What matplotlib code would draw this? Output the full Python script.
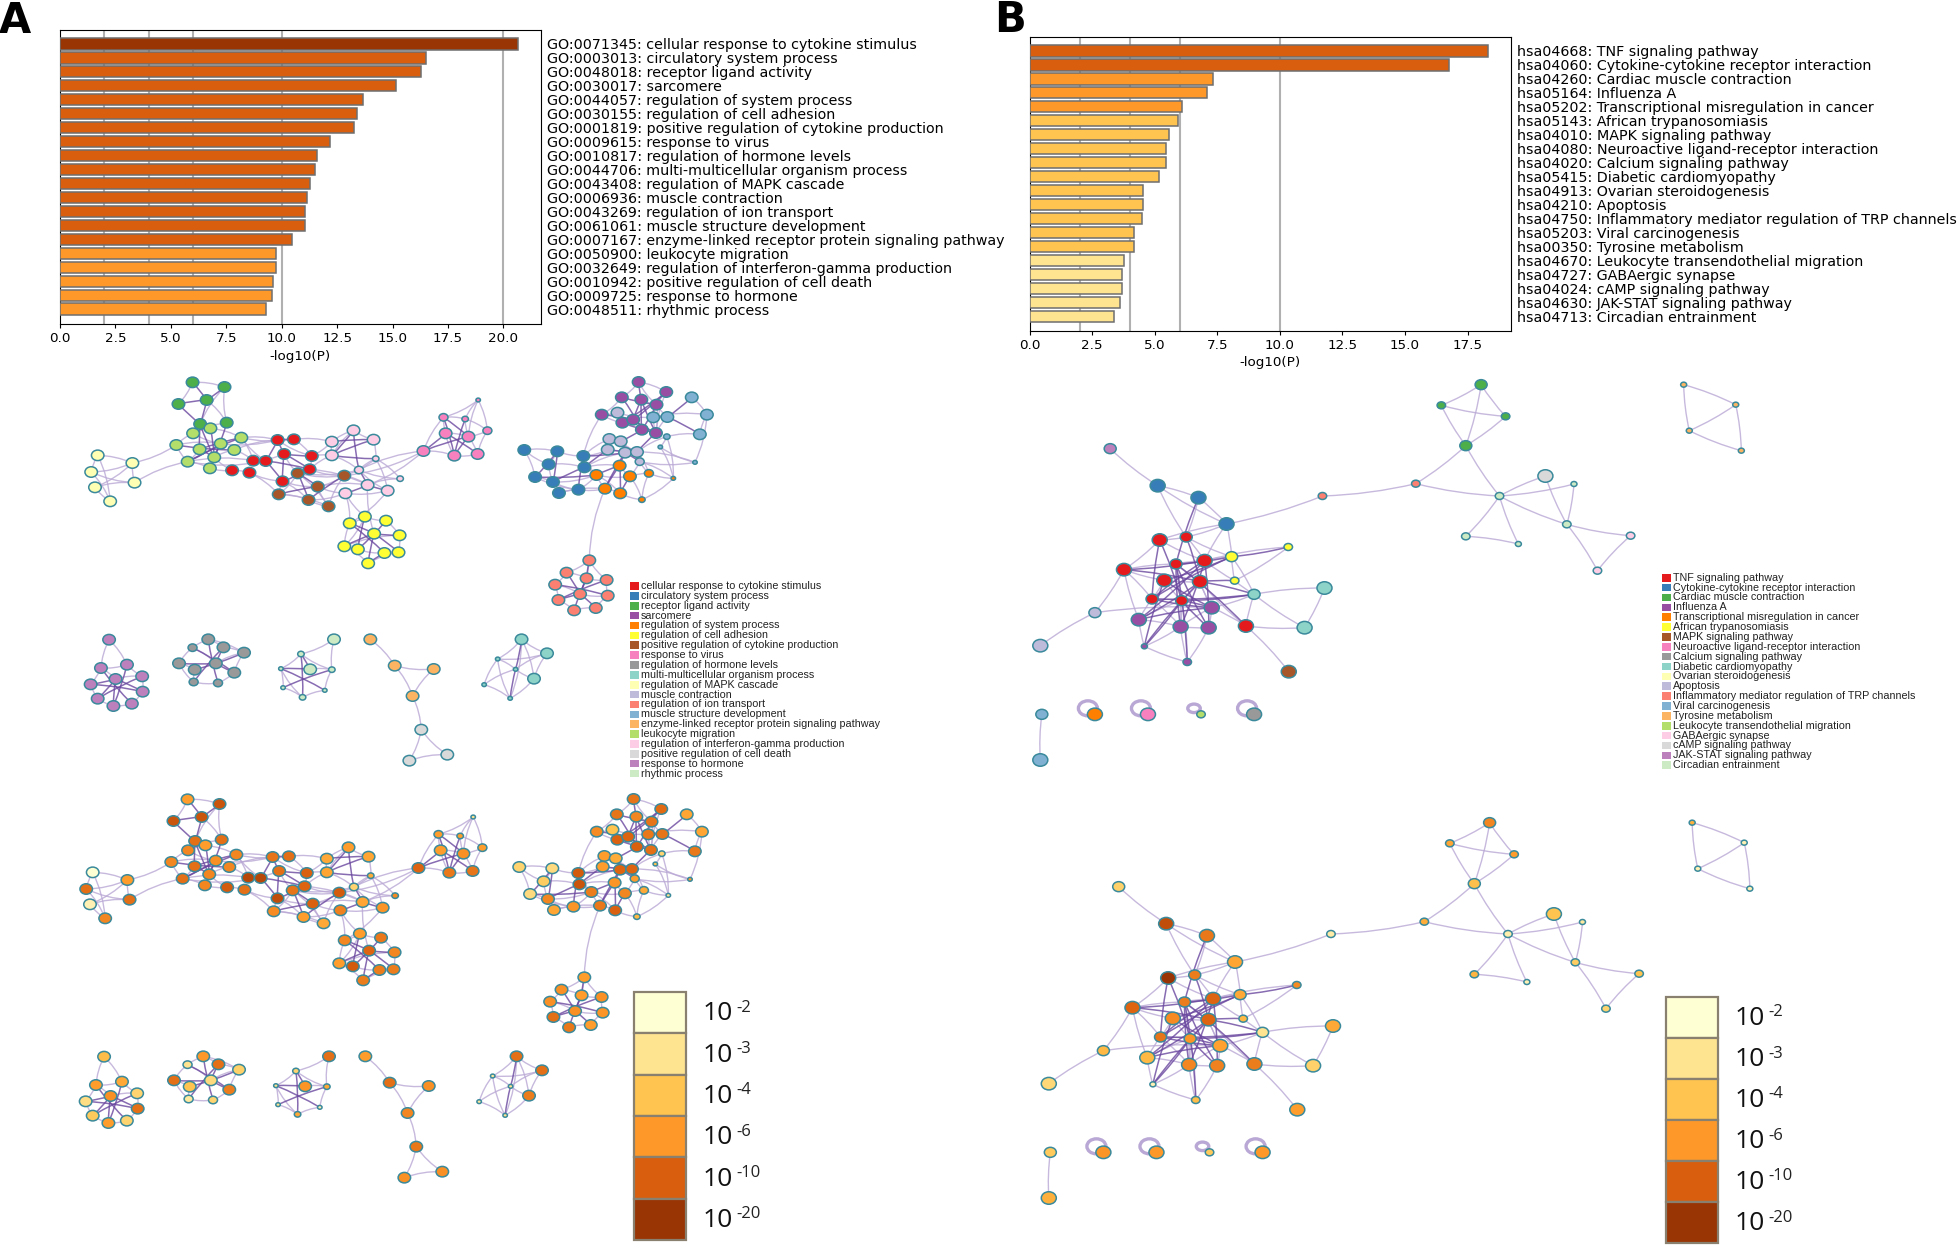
import matplotlib
matplotlib.use('Agg')
import matplotlib.pyplot as plt
from matplotlib.colors import LinearSegmentedColormap
from matplotlib.patches import Ellipse, Rectangle, FancyArrowPatch

W, H = 1959, 1246

# p value colour bins
bin_colors = ['#FFFFD4', '#FEE391', '#FEC44F', '#FE9929', '#D95F0E', '#993404']
bin_labels = ['-2', '-3', '-4', '-6', '-10', '-20']
p_cmap = LinearSegmentedColormap.from_list('p', list(zip([0, 0.2, 0.4, 0.62, 0.87, 1], bin_colors)))

cluster_colors = ['#E41A1C', '#377EB8', '#4DAF4A', '#984EA3', '#FF7F00', '#FFFF33', '#A65628',
                  '#F781BF', '#999999', '#8DD3C7', '#FFFFB3', '#BEBADA', '#FB8072', '#80B1D3',
                  '#FDB462', '#B3DE69', '#FCCDE5', '#D9D9D9', '#BC80BD', '#CCEBC5']

# ---- bars A
go_labels = ['GO:0071345: cellular response to cytokine stimulus', 'GO:0003013: circulatory system process',
             'GO:0048018: receptor ligand activity', 'GO:0030017: sarcomere',
             'GO:0044057: regulation of system process', 'GO:0030155: regulation of cell adhesion',
             'GO:0001819: positive regulation of cytokine production', 'GO:0009615: response to virus',
             'GO:0010817: regulation of hormone levels', 'GO:0044706: multi-multicellular organism process',
             'GO:0043408: regulation of MAPK cascade', 'GO:0006936: muscle contraction',
             'GO:0043269: regulation of ion transport', 'GO:0061061: muscle structure development',
             'GO:0007167: enzyme-linked receptor protein signaling pathway', 'GO:0050900: leukocyte migration',
             'GO:0032649: regulation of interferon-gamma production', 'GO:0010942: positive regulation of cell death',
             'GO:0009725: response to hormone', 'GO:0048511: rhythmic process']
go_values = [20.66, 16.52, 16.29, 15.14, 13.67, 13.38, 13.24, 12.17, 11.57, 11.51,
             11.28, 11.14, 11.05, 11.05, 10.47, 9.73, 9.73, 9.61, 9.55, 9.27]
go_bins = [5] + [4] * 14 + [3] * 5

# ---- bars B
kegg_labels = ['hsa04668: TNF signaling pathway', 'hsa04060: Cytokine-cytokine receptor interaction',
               'hsa04260: Cardiac muscle contraction', 'hsa05164: Influenza A',
               'hsa05202: Transcriptional misregulation in cancer', 'hsa05143: African trypanosomiasis',
               'hsa04010: MAPK signaling pathway', 'hsa04080: Neuroactive ligand-receptor interaction',
               'hsa04020: Calcium signaling pathway', 'hsa05415: Diabetic cardiomyopathy',
               'hsa04913: Ovarian steroidogenesis', 'hsa04210: Apoptosis',
               'hsa04750: Inflammatory mediator regulation of TRP channels', 'hsa05203: Viral carcinogenesis',
               'hsa00350: Tyrosine metabolism', 'hsa04670: Leukocyte transendothelial migration',
               'hsa04727: GABAergic synapse', 'hsa04024: cAMP signaling pathway',
               'hsa04630: JAK-STAT signaling pathway', 'hsa04713: Circadian entrainment']
kegg_values = [18.32, 16.77, 7.31, 7.09, 6.07, 5.93, 5.58, 5.46, 5.43, 5.16,
               4.54, 4.54, 4.47, 4.17, 4.17, 3.75, 3.68, 3.68, 3.60, 3.36]
kegg_bins = [4] * 2 + [3] * 3 + [2] * 10 + [1] * 5

a_x = [263, 322, 289, 237, 277, 326,
       264, 296, 353, 233, 315, 276, 340, 303, 254, 295,
       88, 152, 76, 156, 83, 111,
       420, 450, 432, 483, 375, 398, 336, 368, 479, 429,
       457, 543, 494, 422, 477, 514,
       520, 520, 560, 597, 601, 570, 586, 545, 623, 646,
       790, 726, 766, 807, 730, 772, 689, 746, 789,
       581, 620, 553, 598, 645, 543, 568, 617, 643, 587,
       1086, 1137, 1055, 1091, 1119, 1018, 1056, 1076, 1092, 1118,
       1184, 1212, 1113, 1139, 1199, 1138, 1126, 1190,
       1047, 1032, 1053, 1029, 1061, 1083, 1088,
       875, 936, 984, 920, 986, 895, 928, 939, 975,
       1051, 1008, 1070, 1105, 1150, 1024, 1052, 1092,
       995, 953, 990, 1027, 932, 978, 1029, 938, 1007, 967,
       109, 94, 142, 170, 121, 75, 171, 88, 151, 117,
       292, 263, 320, 358, 238, 306, 267, 340, 265, 310,
       524, 463, 480, 426, 520, 430, 507, 466,
       591, 636, 708, 669,
       685, 733, 663,
       870, 917, 893, 826, 859, 801, 849]
a_y = [67, 81, 120, 132, 192, 188,
       220, 205, 233, 255, 251, 268, 270, 292, 305, 325,
       286, 309, 336, 368, 382, 424,
       240, 238, 282, 288, 302, 303, 331, 338, 328, 364,
       340, 347, 380, 403, 420, 439,
       245, 286, 211, 239, 296, 330, 375, 400, 392, 356,
       120, 172, 177, 212, 220, 230, 273, 287, 282,
       470, 482, 490, 521, 526, 559, 568, 579, 577, 610,
       66, 96, 112, 119, 134, 164, 188, 179, 209, 219,
       112, 164, 172, 171, 223, 230, 261, 307,
       158, 237, 244, 269, 278, 276, 305,
       270, 274, 288, 313, 322, 351, 366, 399, 389,
       317, 345, 349, 340, 355, 386, 400, 419,
       601, 638, 655, 660, 674, 702, 707, 720, 744, 751,
       839, 924, 914, 949, 957, 973, 995, 1016, 1031, 1038,
       838, 863, 862, 878, 910, 910, 929, 938, 966, 969,
       838, 882, 928, 926, 929, 983, 991, 1012,
       838, 917, 927, 1008,
       1109, 1184, 1202,
       838, 880, 956, 897, 928, 974, 1015]
a_group = [2] * 6 + [15] * 10 + [10] * 6 + [0] * 10 + [6] * 6 + [16] * 10 + [7] * 9 + [5] * 10 + [3] * 10 + \
          [13] * 8 + [11] * 7 + [1] * 9 + [4] * 8 + [12] * 10 + [18] * 10 + [8] * 10 + [19] * 8 + [14] * 4 + \
          [17] * 3 + [9] * 7
a_level = [3, 4.5, 4.5, 4.5, 4, 4,
           3.5, 3, 3.5, 3.5, 3.3, 4, 3.5, 3.5, 4, 3.5,
           0, 3, 4, 4, 0.5, 3.5,
           3.9, 4, 4, 4.3, 4.7, 4.7, 4.4, 4, 4.2, 4.6,
           3.9, 4.4, 4.3, 3.4, 3, 2.7,
           2.7, 2.8, 3, 2.8, 2.6, 1.5, 2.8, 3.6, 3.2, 3.4,
           1, 3, 3, 3, 3, 3.3, 4.2, 3.8, 3.9,
           3, 3.8, 3.5, 4.2, 3.5, 3, 4.4, 3.7, 3.7, 3.7,
           3.9, 4.1, 3.9, 3.5, 3.9, 3.4, 4.3, 4.2, 4.3, 4,
           2.8, 2.8, 3.8, 3.9, 3.8, 1.5, 2, 3,
           2, 3, 2.6, 3, 4.2, 4.2, 3,
           1.5, 1.3, 4.4, 1.7, 4.5, 1.3, 3.5, 2.8, 3.2,
           3.2, 3.7, 3.5, 2.7, 1, 3.8, 4.3, 2.3,
           3, 3.3, 3, 3.3, 3.3, 3.3, 3.2, 4, 3, 3.8,
           2.2, 3, 2.7, 1.5, 3.3, 1.2, 4, 1.8, 1.5, 3,
           3.1, 1, 4, 1.6, 4, 1.3, 2, 3.7, 0.8, 1.5,
           4, 1.5, 3.2, 1, 2.7, 1, 0.5, 2.7,
           3, 4, 3.3, 3.5,
           3.8, 3.3, 3.3,
           4, 4, 3.7, 0.8, 1, 0.8, 1]
a_size = [3] * 6 + [3] * 10 + [3] * 6 + [3] * 10 + [3] * 6 + \
         [3, 3, 3, 3, 1, 2, 3, 3, 3, 1] + [0, 2, 1, 2, 3, 3, 3, 3, 3] + [3] * 10 + [3] * 10 + \
         [3, 3, 3, 3, 3, 1, 0, 0] + [3, 3, 3, 3, 3, 3, 2] + [3] * 9 + [3, 3, 3, 2, 0, 3, 3, 1] + [3] * 10 + \
         [3] * 10 + [3, 2, 3, 3, 3, 3, 3, 3, 2, 2] + [3, 1, 3, 0, 1, 0, 0, 1] + [3] * 4 + [3] * 3 + \
         [3, 3, 3, 0, 0, 0, 0]
a_strong = [(3, 2), (3, 4), (2, 4), (2, 1), (0, 2), (4, 11), (5, 13), (4, 13), (14, 8), (9, 12), (11, 13), (15, 13),
            (10, 14), (8, 11), (7, 13), (10, 13), (26, 27), (27, 22), (27, 31), (24, 25), (24, 30), (22, 24),
            (27, 30), (24, 31), (22, 23), (31, 30), (32, 36), (34, 35), (32, 34), (33, 36), (40, 39), (41, 39),
            (38, 41), (40, 43), (43, 44), (39, 42), (44, 45), (44, 46), (54, 53), (54, 52), (49, 55), (50, 55),
            (52, 56), (53, 55), (49, 53), (60, 66), (59, 64), (57, 63), (58, 63), (60, 61), (60, 65), (60, 62),
            (59, 60), (64, 66), (69, 75), (70, 76), (68, 73), (67, 70), (74, 70), (73, 76), (71, 75), (69, 71),
            (72, 74), (74, 76), (68, 74), (70, 75), (79, 80), (80, 77), (80, 81), (86, 90), (87, 89), (88, 90),
            (89, 91), (89, 106), (90, 76), (87, 75), (101, 89), (94, 89), (96, 88), (94, 96), (93, 98), (96, 98),
            (100, 94), (97, 102), (93, 97), (101, 106), (101, 107), (103, 107), (102, 101), (109, 111), (110, 114),
            (111, 114), (113, 115), (112, 116), (114, 117), (111, 118), (116, 114), (120, 127), (121, 128),
            (122, 126), (124, 125), (123, 128), (123, 126), (124, 123), (123, 125), (129, 138), (130, 136),
            (131, 137), (132, 135), (133, 134), (134, 131), (134, 136), (140, 146), (141, 142), (142, 145),
            (143, 144), (140, 141), (158, 160), (154, 158)]
a_weak = [(0, 1), (1, 5), (0, 3), (1, 4), (2, 5), (4, 5), (6, 7), (6, 9), (7, 8), (9, 14), (14, 15), (15, 28),
          (8, 22), (8, 23), (12, 26), (13, 28), (14, 26), (14, 27), (11, 14), (12, 13), (9, 10), (6, 10), (8, 26),
          (8, 27), (12, 22), (10, 22), (16, 17), (16, 18), (17, 18), (17, 19), (17, 20), (18, 19), (18, 21),
          (19, 20), (16, 21), (20, 21), (19, 14), (17, 9), (23, 38), (25, 38), (25, 39), (22, 25), (23, 25),
          (26, 24), (28, 29), (29, 31), (29, 35), (31, 35), (31, 36), (31, 34), (32, 35), (34, 37), (35, 36),
          (36, 37), (30, 39), (30, 33), (33, 34), (33, 37), (32, 37), (34, 45), (30, 44), (24, 32), (25, 30),
          (32, 33), (34, 44), (36, 45), (35, 37), (32, 43), (33, 44), (33, 42), (39, 43), (38, 39), (38, 40),
          (40, 41), (41, 42), (42, 43), (42, 46), (43, 46), (44, 47), (43, 47), (42, 47), (45, 46), (39, 40),
          (33, 54), (43, 54), (44, 54), (48, 49), (48, 50), (48, 51), (48, 53), (49, 50), (49, 52), (50, 51),
          (50, 53), (51, 53), (51, 56), (52, 53), (52, 55), (53, 56), (55, 56), (54, 55), (49, 54), (45, 59),
          (45, 57), (46, 59), (44, 60), (57, 59), (57, 58), (58, 61), (59, 62), (61, 65), (62, 63), (62, 66),
          (63, 64), (64, 65), (65, 66), (57, 62), (61, 62), (67, 69), (67, 71), (67, 68), (68, 71), (69, 72),
          (70, 71), (71, 76), (72, 73), (73, 74), (74, 75), (75, 76), (68, 76), (79, 71), (79, 76), (80, 71),
          (80, 76), (77, 78), (78, 81), (79, 78), (81, 82), (82, 83), (83, 84), (78, 84), (72, 94), (85, 72),
          (85, 79), (85, 73), (82, 90), (83, 105), (84, 90), (82, 105), (86, 87), (86, 88), (87, 90), (88, 89),
          (89, 90), (90, 91), (91, 104), (91, 103), (86, 94), (90, 104), (91, 84), (92, 93), (92, 95), (92, 97),
          (93, 94), (93, 95), (95, 98), (97, 98), (97, 100), (98, 99), (98, 100), (99, 100), (100, 106), (95, 96),
          (94, 102), (96, 102), (98, 102), (99, 106), (100, 102), (96, 89), (94, 88), (96, 101), (102, 103),
          (103, 104), (104, 105), (105, 108), (102, 106), (106, 107), (107, 108), (103, 108), (104, 108),
          (102, 107), (101, 103), (91, 105), (106, 109), (109, 110), (109, 112), (110, 113), (112, 115), (113, 116),
          (115, 117), (116, 118), (117, 118), (110, 111), (111, 112), (113, 114), (114, 115), (109, 114),
          (119, 120), (119, 121), (120, 121), (120, 124), (121, 122), (122, 125), (124, 126), (125, 127),
          (126, 128), (127, 128), (123, 120), (123, 122), (129, 130), (129, 131), (130, 133), (131, 132),
          (132, 136), (133, 135), (135, 137), (136, 138), (137, 138), (130, 134), (132, 134), (129, 132),
          (133, 137), (139, 140), (139, 143), (140, 142), (140, 143), (142, 144), (143, 145), (144, 146),
          (145, 146), (141, 143), (142, 146), (147, 148), (148, 149), (148, 150), (149, 150), (150, 151),
          (151, 152), (151, 153), (152, 153), (154, 156), (157, 160), (157, 158), (154, 155), (155, 157),
          (155, 156), (154, 157), (157, 159), (159, 160), (158, 156), (156, 160), (155, 158), (154, 160),
          (158, 159)]

# ---- network B, full x = 1000 + x/1.96, full y = 370 + y/3
b_x = [943, 865, 991, 913, 815, 632, 979, 1125, 1111, 913, 1016, 1069, 1236, 1171, 1340, 1442, 1351, 1453, 216,
       309, 389, 444, 313, 365, 401, 345, 243, 322, 392, 298, 356, 482, 454, 565, 460,
       415, 272, 354, 409, 283, 367, 498, 636, 597, 186, 79, 566, 82, 79, 186, 290, 394, 498]
b_y = [44, 106, 139, 227, 341, 378, 378, 342, 463, 499, 522, 318, 497, 602, 44, 104, 182, 242, 236,
       347, 383, 462, 510, 501, 572, 582, 599, 631, 635, 687, 692, 768, 560, 531, 632,
       713, 749, 770, 773, 829, 876, 673, 654, 773, 728, 827, 905, 1033, 1170, 1033, 1033, 1033, 1033]
b_group = [2, 2, 2, 2, 12, 12, 19, 19, 19, 19, 19, 17, 16, 16, 14, 14, 14, 14, 18,
           1, 1, 1, 0, 0, 0, 0, 0, 0, 0, 0, 0, 0, 5, 5, 5,
           3, 3, 3, 3, 3, 3, 9, 9, 9, 11, 11, 6, 13, 13, 4, 7, 15, 8]
b_level = [3.5, 2.8, 3, 2.1, 2.6, 0.7, 0.6, 0.8, 1.7, 2.4, 0.5, 2, 2, 1.5, 2.5, 0.5, 0.5, 0.5, 1.6,
           4.6, 3.8, 2.8, 5, 3.7, 4.2, 3.7, 4.2, 3.4, 4.2, 3.9, 3.2, 3.7, 2.7, 3.4, 2.3,
           2.9, 2.3, 3.5, 3.6, 0.5, 2.2, 1, 2.7, 1.6, 2.3, 1.4, 3, 1.8, 2.5, 3.2, 3.1, 1.8, 3.1]
b_size = [2, 1, 1, 2, 1, 1, 1, 0, 1, 1, 0, 3, 1, 1, 0, 0, 0, 0, 2,
          3, 3, 3, 3, 2, 3, 2, 3, 3, 3, 2, 2, 3, 2, 1, 1,
          3, 3, 3, 3, 0, 1, 2, 3, 3, 2, 3, 3, 2, 3, 3, 3, 1, 3]
b_strong = [(22, 30), (22, 29), (23, 28), (24, 29), (25, 31), (25, 38), (24, 38), (26, 24), (26, 28), (27, 35),
            (28, 36), (29, 35), (30, 35), (30, 38), (36, 35), (36, 24), (37, 25), (37, 24), (39, 28), (39, 30),
            (39, 27), (40, 25), (32, 25), (32, 29), (32, 27), (34, 28), (28, 41), (30, 41), (41, 29), (20, 25),
            (33, 32)]
b_weak = [(0, 1), (0, 2), (0, 3), (1, 3), (2, 3), (1, 2), (3, 4), (3, 6), (4, 5), (4, 6), (5, 21), (6, 7), (6, 11),
          (6, 8), (6, 9), (6, 10), (9, 10), (11, 8), (7, 8), (8, 12), (8, 13), (12, 13), (14, 15), (14, 16),
          (15, 16), (16, 17), (15, 17), (18, 19), (19, 20), (19, 21), (20, 21), (19, 23), (20, 23), (21, 22),
          (21, 23), (21, 24), (21, 32), (22, 23), (22, 26), (22, 24), (23, 24), (23, 32), (24, 32), (24, 25),
          (24, 33), (32, 34), (33, 34), (34, 41), (32, 41), (24, 34), (26, 25), (26, 27), (26, 29), (26, 36),
          (26, 44), (27, 28), (27, 29), (27, 30), (28, 30), (28, 35), (29, 30), (29, 36), (29, 37), (30, 36),
          (30, 37), (35, 37), (35, 38), (37, 38), (36, 37), (36, 39), (37, 39), (37, 40), (38, 40), (39, 40),
          (41, 42), (41, 43), (41, 35), (41, 31), (42, 43), (31, 43), (31, 46), (31, 35), (31, 28), (44, 45),
          (44, 35), (47, 48), (25, 37), (25, 28), (35, 28), (40, 30)]
b_loops = [49, 50, 51, 52]

legend_a = ['cellular response to cytokine stimulus', 'circulatory system process', 'receptor ligand activity',
            'sarcomere', 'regulation of system process', 'regulation of cell adhesion',
            'positive regulation of cytokine production', 'response to virus', 'regulation of hormone levels',
            'multi-multicellular organism process', 'regulation of MAPK cascade', 'muscle contraction',
            'regulation of ion transport', 'muscle structure development',
            'enzyme-linked receptor protein signaling pathway', 'leukocyte migration',
            'regulation of interferon-gamma production', 'positive regulation of cell death',
            'response to hormone', 'rhythmic process']
legend_b = ['TNF signaling pathway', 'Cytokine-cytokine receptor interaction', 'Cardiac muscle contraction',
            'Influenza A', 'Transcriptional misregulation in cancer', 'African trypanosomiasis',
            'MAPK signaling pathway', 'Neuroactive ligand-receptor interaction', 'Calcium signaling pathway',
            'Diabetic cardiomyopathy', 'Ovarian steroidogenesis', 'Apoptosis',
            'Inflammatory mediator regulation of TRP channels', 'Viral carcinogenesis', 'Tyrosine metabolism',
            'Leukocyte transendothelial migration', 'GABAergic synapse', 'cAMP signaling pathway',
            'JAK-STAT signaling pathway', 'Circadian entrainment']


def px_axes(fig, left, top, right, bottom):
    return fig.add_axes([left / W, 1 - bottom / H, (right - left) / W, (bottom - top) / H])


def bar_panel(fig, box, labels, values, bins, grid, ticks, ylim):
    ax = px_axes(fig, *box)
    ax.barh(range(len(values)), values, height=0.8, color=[bin_colors[b] for b in bins],
            edgecolor='#6e6e6e', linewidth=1.1, zorder=3)
    ax.set_ylim(*ylim)
    ax.set_xlim(0, max(values) * 1.05)
    ax.set_xticks(ticks)
    ax.set_xticklabels(['%.1f' % t for t in ticks], fontsize=9.7)
    for g in grid:
        ax.axvline(g, color='#b0b0b0', lw=1.5, zorder=1)
    ax.yaxis.tick_right()
    ax.set_yticks(range(len(values)))
    ax.set_yticklabels(labels, fontsize=10.27)
    ax.tick_params(axis='y', length=0, pad=4)
    ax.tick_params(axis='x', length=2.6, pad=3.5)
    ax.set_xlabel('-log10(P)', fontsize=9.7, labelpad=3)
    return ax


def draw_network(ax, xs, ys, groups, levels, sizes, strong, weak, size_px, by_level, rad, loops=()):
    for k, (i, j) in enumerate(weak):
        ax.add_patch(FancyArrowPatch((xs[i], ys[i]), (xs[j], ys[j]), arrowstyle='-', shrinkA=0, shrinkB=0,
                                     connectionstyle='arc3,rad=%.2f' % (rad if k % 2 else -rad),
                                     color='#b9a8d5', lw=1.0, alpha=0.8, zorder=2))
    for k, (i, j) in enumerate(strong):
        ax.add_patch(FancyArrowPatch((xs[i], ys[i]), (xs[j], ys[j]), arrowstyle='-', shrinkA=0, shrinkB=0,
                                     connectionstyle='arc3,rad=%.2f' % (0.04 if k % 2 else -0.04),
                                     color='#6a479f', lw=1.1, alpha=0.8, zorder=3))
    for i in loops:
        w = size_px[sizes[i]][0]
        ax.add_patch(Ellipse((xs[i] - 7, ys[i] - 6), w + 4, w, fill=False, ec='#b9a8d5', lw=2.4, zorder=2))
    for k in range(len(xs)):
        if by_level:
            c = p_cmap(levels[k] / 5)
        else:
            c = cluster_colors[groups[k]]
        w, h = size_px[sizes[k]]
        ax.add_patch(Ellipse((xs[k], ys[k]), w, h, fc=c, ec='#3a8a9c', lw=1.1, zorder=4))


def legend_block(ax, x, y, names):
    for i, name in enumerate(names):
        yy = y + i * 9.87
        ax.add_patch(Rectangle((x, yy - 3.8), 9, 7.6, fc=cluster_colors[i], ec='none'))
        ax.text(x + 11, yy, name, fontsize=7.75, family='Liberation Sans', va='center', ha='left', color='#222222')


def color_scale(ax, left, top, right, bottom, text_x):
    step = (bottom - top) / 6
    for i, c in enumerate(bin_colors):
        ax.add_patch(Rectangle((left, top + i * step), right - left, step, fc=c, ec='#8a8070', lw=1.6))
        yc = top + (i + 0.5) * step
        ax.text(text_x, yc + 1, '10', fontsize=19, family='Open Sans', va='center', ha='left', color='#111111')
        ax.text(text_x + 33, yc - 5, bin_labels[i], fontsize=12, family='Open Sans', va='center', ha='left',
                color='#222222')


fig = plt.figure(figsize=(W / 100, H / 100), dpi=100)

net = fig.add_axes([0, 0, 1, 1])
net.set_xlim(0, W)
net.set_ylim(H, 0)
net.axis('off')

size_a = [(4.5, 3.8), (6.5, 5.5), (9, 7.5), (12.5, 10.5)]
size_b = [(6, 5), (8.5, 7), (12, 10), (15, 12.5)]

ax_top = [50 + v / 1.845 for v in a_x]
ay_top = [360 + v / 3 for v in a_y]
bx_top = [1000 + v / 1.96 for v in b_x]
by_top = [370 + v / 3 for v in b_y]

draw_network(net, ax_top, ay_top, a_group, a_level, a_size, a_strong, a_weak, size_a, False, 0.1)
draw_network(net, [v - 5 for v in ax_top], [v + 417 for v in ay_top], a_group, a_level, a_size,
             a_strong, a_weak, size_a, True, 0.1)
draw_network(net, bx_top, by_top, b_group, b_level, b_size, b_strong, b_weak, size_b, False, 0.05, b_loops)
draw_network(net, [v + 8.5 for v in bx_top], [v + 438 for v in by_top], b_group, b_level, b_size,
             b_strong, b_weak, size_b, True, 0.05, b_loops)

legend_block(net, 630, 586, legend_a)
legend_block(net, 1662, 577.7, legend_b)
color_scale(net, 633.5, 992, 686, 1240, 703)
color_scale(net, 1666, 997, 1718, 1243, 1735)

bar_panel(fig, (60, 30.3, 541, 324), go_labels, go_values, go_bins, [2, 4, 6, 10, 20],
          [0, 2.5, 5, 7.5, 10, 12.5, 15, 17.5, 20], (20.07, -0.98))
bar_panel(fig, (1029.7, 37, 1511, 330.7), kegg_labels, kegg_values, kegg_bins, [2, 4, 6, 10],
          [0, 2.5, 5, 7.5, 10, 12.5, 15, 17.5], (20.02, -1.0))

fig.text(-1 / W, 1 - 33 / H, 'A', fontsize=30, fontweight='bold', va='baseline', ha='left')
fig.text(994 / W, 1 - 32 / H, 'B', fontsize=30, fontweight='bold', va='baseline', ha='left')

fig.savefig('out.png', dpi=100)
